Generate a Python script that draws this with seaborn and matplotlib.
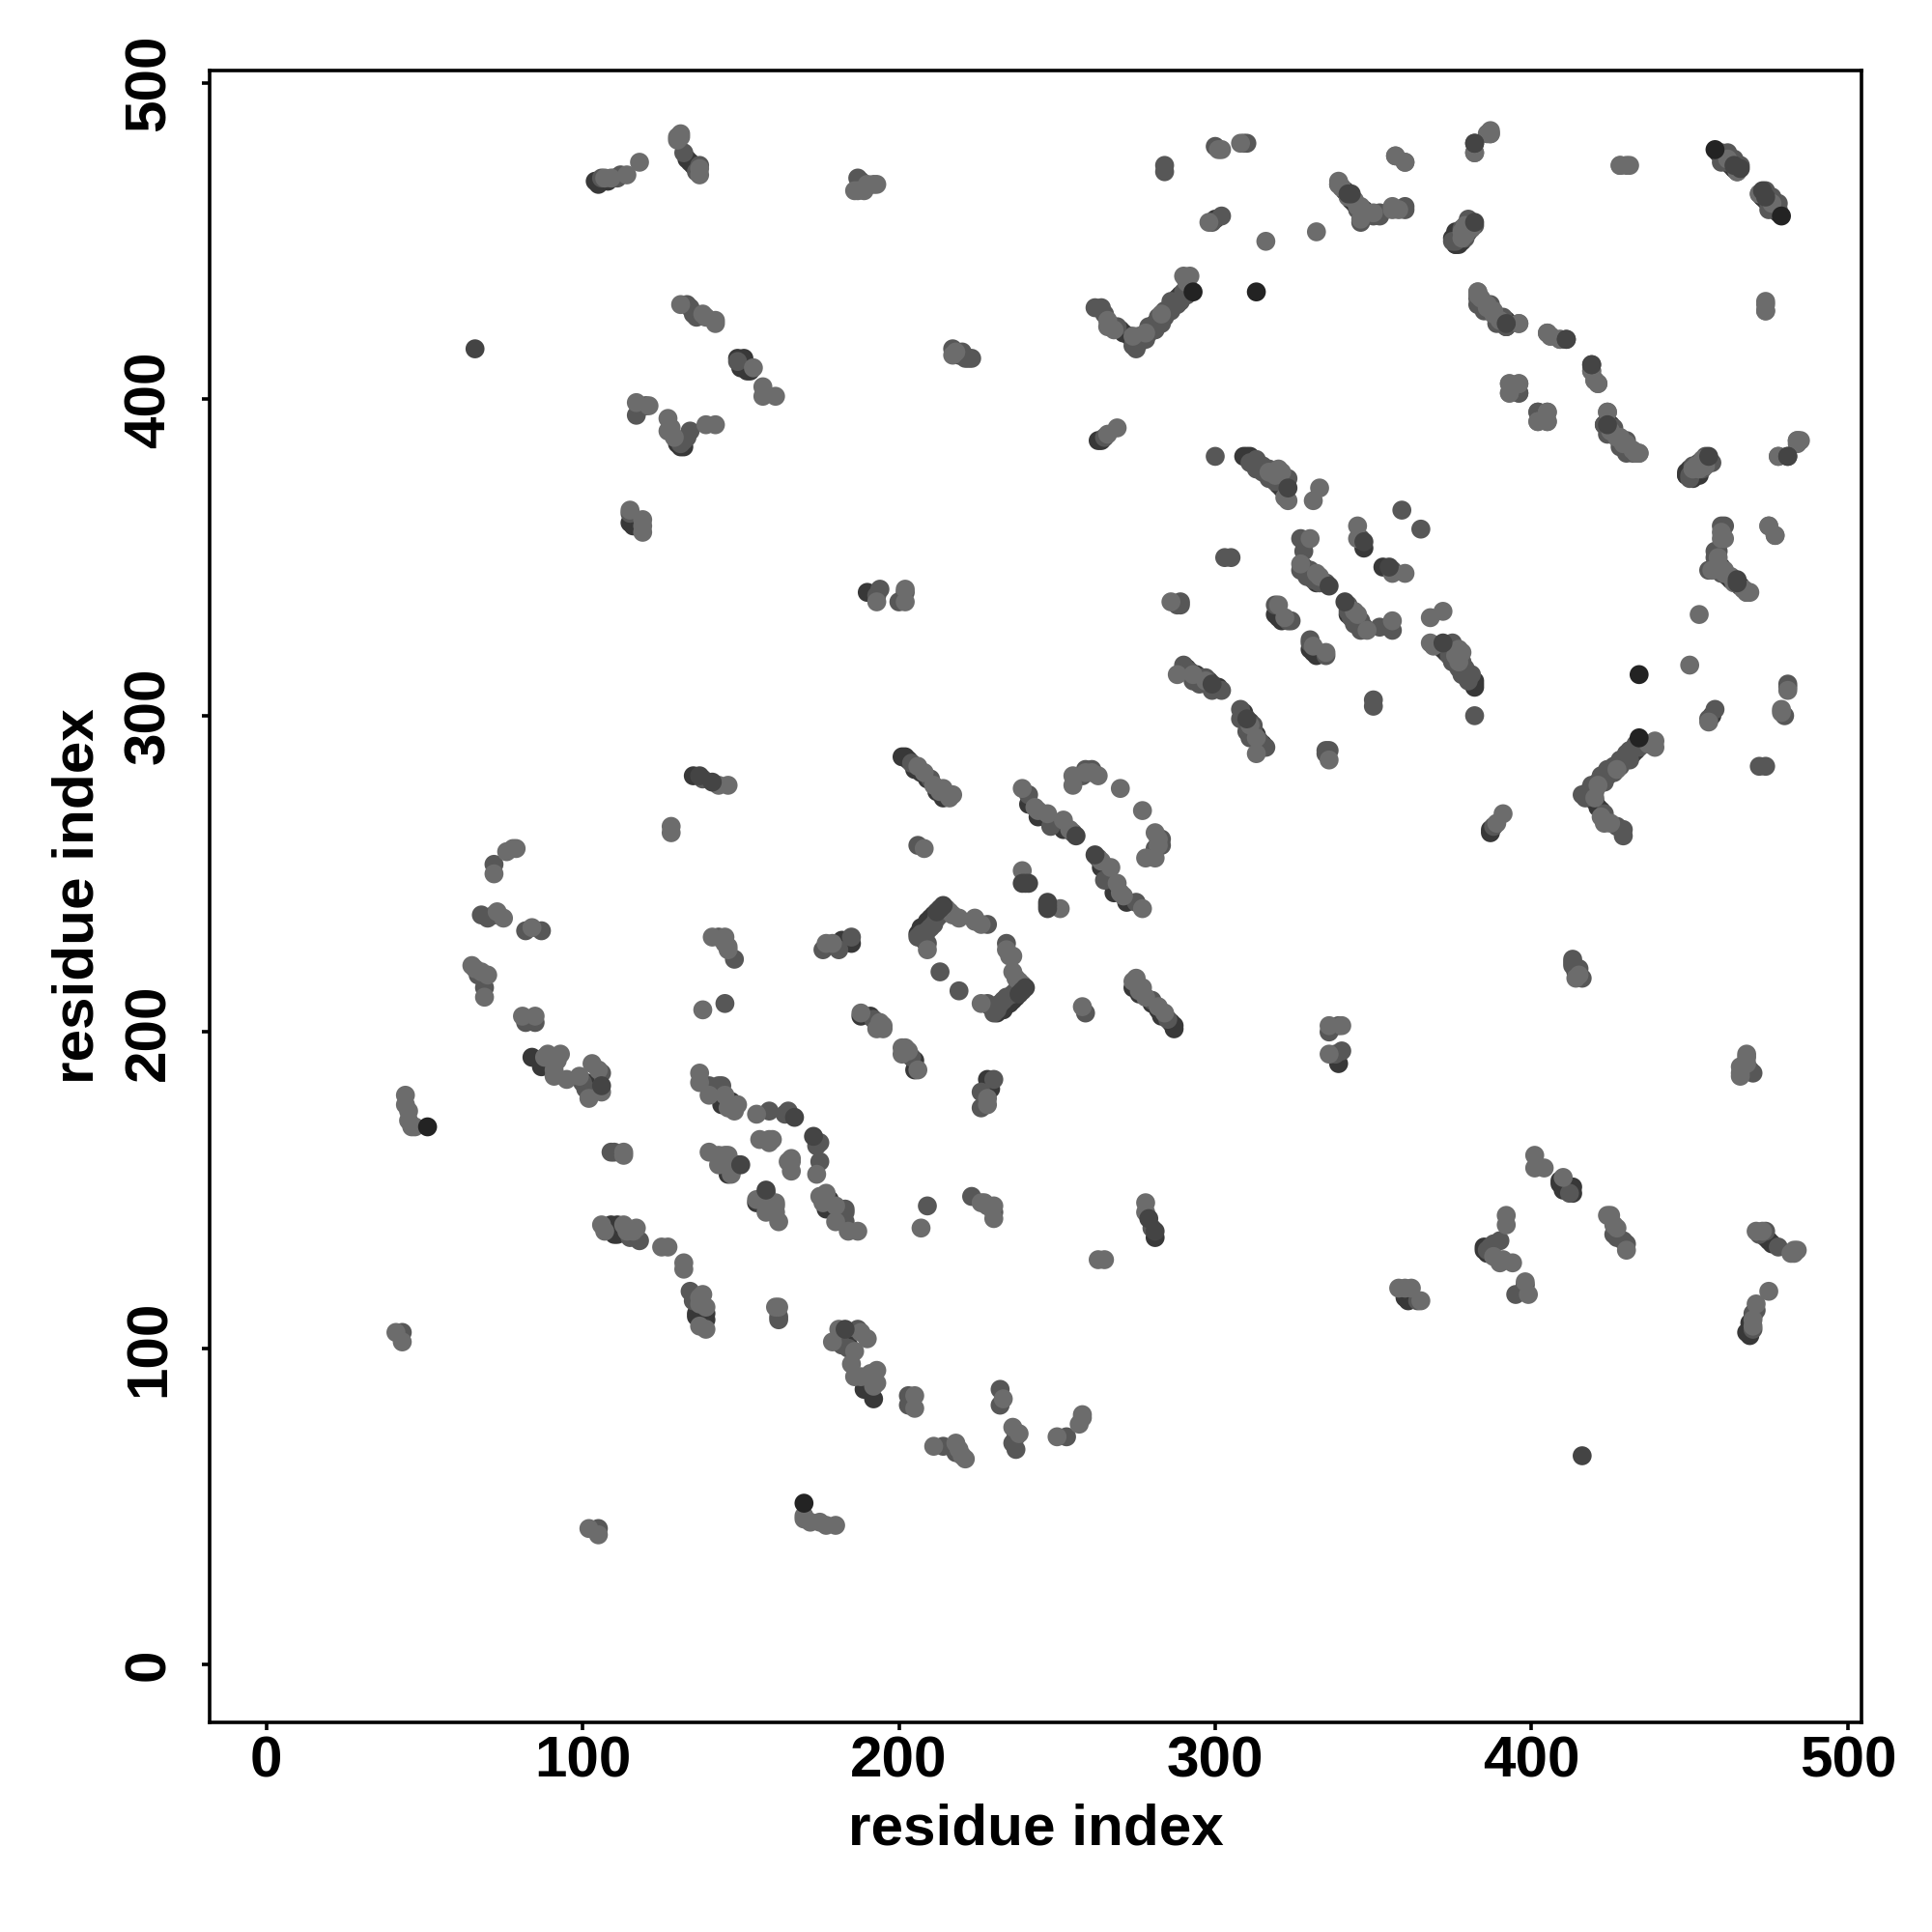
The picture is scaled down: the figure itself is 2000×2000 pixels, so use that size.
import matplotlib
matplotlib.use('Agg')
import matplotlib.pyplot as plt
import pandas as pd
import seaborn as sns

# contacts read off the upper triangle (i < j), the map is symmetric
# grouped by how dark the point looks, dark ones get drawn first
contacts_under = [
    (104,469),(105,468),(108,469),(133,476),(134,475),(135,474),(136,473),
    (149,413),(150,412),(151,413),(150,410),(152,409),(153,409),(120,398),
    (130,386),(131,385),(132,385),(115,361),(116,360),(300,457),(219,414),
    (270,422),(271,421),(273,420),(275,418),(279,421),(281,424),(283,426),
    (285,428),(287,430),(289,433),(288,432),(263,387),(264,387),
    (309,382),(310,382),(311,382),(312,381),(313,380),(314,379),(316,377),
    (318,375),(320,373),(321,372),(347,353),(319,332),(320,331),(321,330),
    (328,347),(329,346),(330,344),(332,342),(291,315),(294,313),(295,312),
    (298,311),(300,309),(301,309),(241,272),(244,268),(248,266),(252,264),
    (201,287),(202,287),(203,286),(205,283),(207,282),(209,280),(212,276),
    (214,274),(206,231),(207,233),(208,231),(208,229),(209,235),(210,236),
    (211,237),(182,229),(184,229),(185,228),(188,205),(191,205),(135,281),
    (190,339),(144,177),(147,178),(146,155),(147,158),(149,158),(84,192),
    (87,189),(90,190),(101,184),(109,139),(110,136),(111,139),(111,136),
    (459,478),(460,477),(462,476),(463,474),(464,473),(473,464),(341,466),
    (342,465),(347,459),(376,449),(377,449),(378,450),(380,453),
    (384,431),(385,430),(387,428),(389,426),(392,423),(424,391),(425,392),
    (427,388),(429,386),(431,384),(449,376),(451,375),(452,377),(453,376),
    (460,347),(462,344),(463,343),(466,341),
]
contacts_mid = [
    (106,470),(110,470),(111,470),(112,471),(132,478),(137,474),(136,472),
    (133,430),(134,429),(135,427),(136,426),(149,412),(117,395),(133,388),
    (134,390),(132,387),(131,386),(115,364),(187,470),(188,469),(284,474),
    (284,472),(300,480),(309,481),(310,481),(299,456),(302,458),
    (262,429),(264,429),(265,427),(269,423),(276,418),(275,416),(277,420),
    (280,423),(282,426),(284,428),(286,431),(290,434),(291,435),
    (217,416),(220,415),(221,413),(222,413),(223,413),(265,388),(300,382),
    (313,381),(315,379),(317,378),(322,375),(359,365),(346,356),(303,350),
    (305,350),(288,335),(289,335),(289,336),(319,335),(323,330),(324,330),
    (327,356),(328,352),(330,346),(331,345),(334,342),(335,342),
    (290,316),(292,314),(296,312),(302,308),(258,281),(261,283),(259,283),
    (241,275),(248,265),(255,263),(204,285),(210,280),(206,259),(206,230),
    (209,228),(228,234),(213,219),(176,226),(181,226),(185,230),(192,204),
    (145,209),(148,223),(143,230),(138,280),(193,338),(194,340),(200,336),
    (202,339),(140,183),(143,183),(144,183),(159,175),(164,174),(165,175),
    (100,184),(101,182),(106,187),(82,203),(85,203),(82,232),(87,232),
    (69,218),(69,214),(67,218),(68,237),(70,236),(72,237),(72,253),(43,105),
    (109,162),(110,162),(118,134),(115,135),(461,477),(462,475),(472,465),
    (475,463),(477,461),(478,460),(340,467),(345,460),(350,458),(352,458),
    (360,460),(375,450),(382,455),(383,432),(391,424),(396,402),(402,396),
    (423,392),(426,390),(450,376),(454,378),(456,381),(457,380),
    (461,360),(459,352),(458,347),(456,346),
    # the broad chains, these sit next to the dark ones
    (207,231),(209,232),(210,233),(211,234),(212,236),(213,237),(214,238),
    (274,417),(276,420),(278,419),(279,423),(281,422),(283,424),(284,426),
    (286,428),(288,430),(289,431),(291,433),(460,475),(462,478),(464,476),
    (466,474),(383,430),(385,428),(387,430),(389,424),(391,426),(379,451),
    (311,380),(313,378),(315,377),(317,375),(319,374),(321,374),(323,375),
    (327,346),(329,344),(331,343),(333,342),(293,311),(295,310),(297,312),
    (299,308),
]
contacts_light = [
    (107,470),(109,470),(114,471),(118,475),(131,484),(130,483),(131,483),
    (130,482),(137,471),(137,473),(131,430),(138,427),(139,426),(142,425),
    (142,424),(154,410),(157,404),(157,401),(161,401),(117,399),(121,398),
    (127,394),(127,390),(139,392),(142,392),(128,391),(129,388),
    (115,365),(119,362),(119,360),(119,358),(186,466),(187,466),(189,466),
    (190,468),(192,468),(193,468),(301,479),(302,479),(308,481),(298,456),
    (316,450),(332,453),(266,425),(266,423),(268,422),(274,420),(278,421),
    (283,427),(291,438),(290,439),(292,439),(291,437),(218,415),(217,414),
    (266,389),(269,391),(317,377),(319,376),(320,378),(321,377),(323,368),
    (322,369),(333,372),(331,368),(345,360),(345,356),(286,336),(320,335),
    (322,331),(330,356),(327,348),(332,345),(333,344),(288,313),(293,313),
    (297,311),(255,281),(255,278),(259,282),(261,282),(263,281),(270,277),
    (239,277),(243,271),(244,270),(247,269),(252,267),(254,264),(206,284),
    (208,282),(211,278),(213,276),(216,274),(217,275),(214,277),(208,258),
    (239,251),(209,226),(215,239),(216,238),(217,237),(219,236),(224,235),
    (226,234),(224,236),(177,228),(179,228),(188,206),(194,203),(195,202),
    (193,201),(195,201),(138,207),(146,226),(146,227),(145,228),(145,230),
    (141,230),(143,278),(146,278),(128,263),(128,265),(193,336),(202,336),
    (202,340),(137,187),(137,184),(140,180),(145,180),(146,176),(149,177),
    (148,175),(155,174),(156,166),(159,166),(159,165),(160,166),(140,162),
    (143,161),(145,161),(146,161),(143,158),(147,155),(148,158),(88,192),
    (89,193),(91,186),(91,188),(93,193),(92,191),(95,185),(99,186),(102,179),
    (103,190),(105,188),(106,181),(81,205),(85,205),(84,233),(65,221),
    (66,220),(68,219),(69,211),(70,218),(73,238),(75,236),(72,250),(76,257),
    (78,258),(79,258),(41,105),(43,102),(46,170),(45,172),(45,175),(44,180),
    (44,177),(47,170),(113,162),(113,161),(106,139),(107,137),(113,139),
    (114,137),(116,137),(117,138),(125,132),(127,132),(357,477),(360,475),
    (382,478),(387,484),(386,484),(428,474),(431,474),(465,472),(476,462),
    (339,468),(344,463),(346,461),(346,457),(356,460),(358,460),(378,451),
    (379,452),(381,454),(383,434),(386,429),(388,427),(390,425),(396,424),
    (405,421),(406,420),(409,419),(419,409),(420,406),(421,405),(393,405),
    (396,405),(393,402),(405,396),(402,393),(405,393),(424,396),(428,388),
    (430,386),(432,384),(433,383),(434,383),(453,378),(455,379),(474,430),
    (474,428),(478,382),(484,387),(485,387),(461,356),(459,350),(461,345),
    (464,342),(467,340),(468,339),(469,339),(475,360),(477,357),
]
contacts_top = [
    (66,416),(323,372),(347,355),(336,341),(299,310),(256,262),(239,247),
    (240,247),(241,247),(212,238),(213,239),(214,240),(137,281),(141,279),
    (167,173),(150,158),(106,183),(382,481),(466,473),(474,464),(343,465),
    (382,456),(392,424),(411,419),(419,411),(481,382),(465,342),
]
contacts_black = [(293,434),(313,434),(51,170),(479,458)]

tick_values = [0, 100, 200, 300, 400, 500]
axis_label = 'residue index'

# layer name -> grey, order here is also the drawing order
layer_greys = {'under': '#383838', 'mid': '#575757', 'light': '#6c6c6c',
               'top': '#444444', 'black': '#232323'}
layer_points = {'under': contacts_under, 'mid': contacts_mid, 'light': contacts_light,
                'top': contacts_top, 'black': contacts_black}

rows = []
for layer, points in layer_points.items():
    for i, j in points:
        rows.append((i, j, layer))
        rows.append((j, i, layer))
df = pd.DataFrame(rows, columns=['i', 'j', 'layer'])

sns.set_theme(style="ticks")
plt.rcParams['font.family'] = ['Liberation Sans', 'DejaVu Sans']

fig = plt.figure(figsize=(10, 10), dpi=200)
ax = fig.add_axes([0.1085, 0.1085, 0.855, 0.855])
sns.scatterplot(data=df, x='i', y='j', hue='layer', palette=layer_greys,
                hue_order=list(layer_greys), s=50, linewidth=0, legend=False, ax=ax)

ax.set_xlim(-17.9, 504.3)
ax.set_ylim(-18.3, 504)
ax.set_xticks(tick_values)
ax.set_yticks(tick_values)
ax.tick_params(length=3, width=1.3, labelsize=21.7, color='black', labelcolor='black')
ax.tick_params(axis='x', pad=2)
ax.tick_params(axis='y', pad=9.4)
for lab in ax.get_xticklabels():
    lab.set_fontweight('bold')
for lab in ax.get_yticklabels():
    lab.set_fontweight('bold')
    lab.set_rotation(90)
    lab.set_va('center')
for side in ax.spines.values():
    side.set_linewidth(1.3)
    side.set_color('black')
ax.set_xlabel(axis_label, fontsize=21.7, fontweight='bold', labelpad=5.4, color='black')
ax.set_ylabel(axis_label, fontsize=21.7, fontweight='bold', labelpad=6.8, color='black')

plt.savefig('out.png', dpi=200)
plt.close(fig)
